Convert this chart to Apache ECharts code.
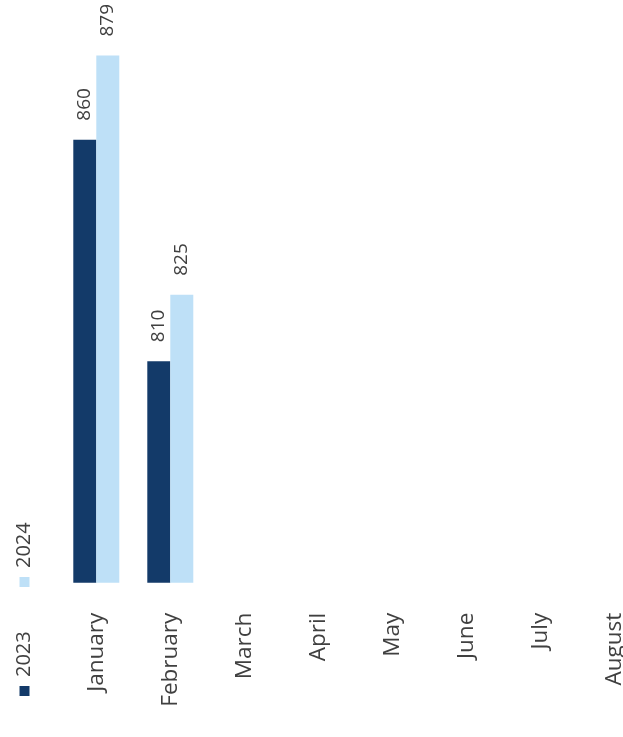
<!DOCTYPE html>
<html>
<head>
<meta charset="utf-8">
<script src="https://cdn.jsdelivr.net/npm/echarts@6/dist/echarts.min.js"></script>
<style>html,body{margin:0;padding:0;background:#fff}#c{width:623px;height:737px}</style>
</head>
<body>
<div id="c"></div>
<script>
var categories = ['January','February','March','April','May','June','July','August'];
var series2023 = [860, 810, null, null, null, null, null, null];
var series2024 = [879, 825, null, null, null, null, null, null];
var seriesNames = ['2023','2024'];
var colors = ['#133a69','#bee0f7'];
var FONT = 'Open Sans';
var chart = echarts.init(document.getElementById('c'));
var labelCfg = {
  show: true, position: 'top', rotate: 90, align: 'left', verticalAlign: 'middle',
  distance: 19, fontFamily: FONT, fontSize: 19, color: '#404040'
};
function legendItem(i, baseY) {
  return [
    {type:'rect', shape:{x:19.5, y:baseY+9, width:10, height:10}, style:{fill:colors[i]}},
    {type:'text', x:24, y:baseY, rotation:Math.PI/2,
     style:{text:seriesNames[i], fontFamily:FONT, fontSize:20, fill:'#404040', align:'left', verticalAlign:'middle'}}
  ];
}
chart.setOption({
  animation:false,
  grid:{left:59.3, width:592, top:6.8, bottom:154.3, outerBoundsMode:'none', containLabel:false},
  xAxis:{type:'category', data:categories,
    axisLine:{show:false}, axisTick:{show:false},
    axisLabel:{rotate:90, margin:30, fontFamily:FONT, fontSize:22.5, color:'#404040', interval:0}},
  yAxis:{type:'value', min:760, max:890, show:false, splitLine:{show:false}},
  series:[
    {name:seriesNames[0], type:'bar', data:series2023, barWidth:23, barGap:'0%', itemStyle:{color:colors[0]}, label:labelCfg},
    {name:seriesNames[1], type:'bar', data:series2024, barWidth:23, barGap:'0%', itemStyle:{color:colors[1]}, label:labelCfg}
  ],
  graphic: legendItem(0, 677).concat(legendItem(1, 568))
});
</script>
</body>
</html>
